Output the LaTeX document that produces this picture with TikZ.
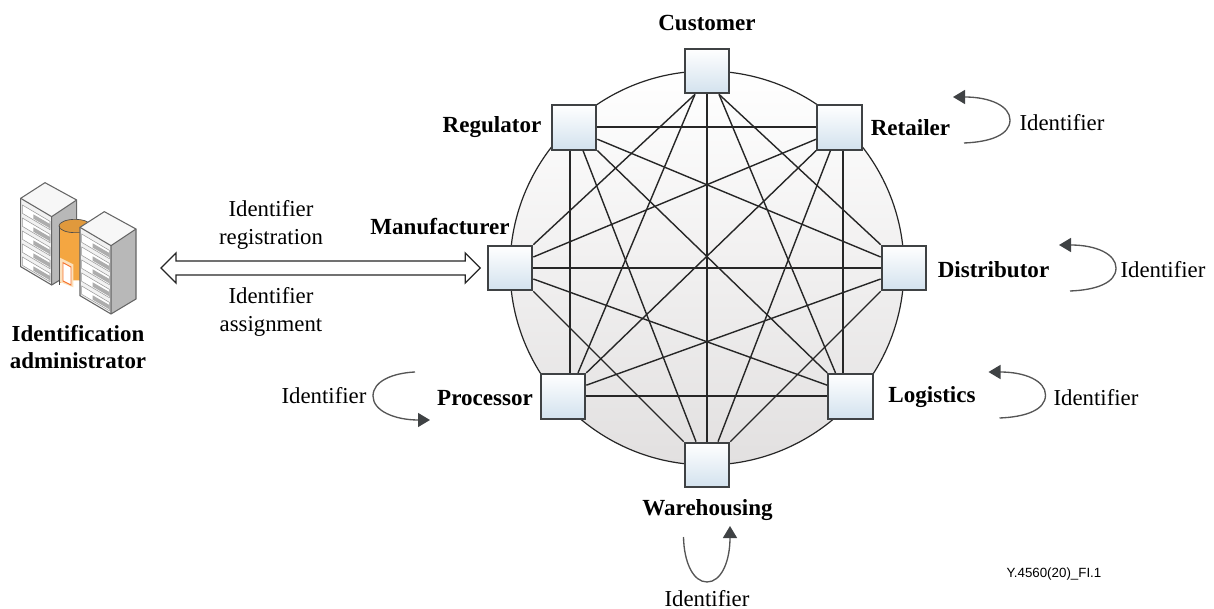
\documentclass[tikz,border=0pt]{standalone}
\usepackage{fontspec}
\setmainfont{Liberation Serif}
\setsansfont{Liberation Sans}
\usetikzlibrary{calc,arrows.meta}
\definecolor{boxedge}{HTML}{3F4244}
\definecolor{boxlow}{HTML}{D3E2EE}
\definecolor{ringlow}{HTML}{E2E0E0}
\definecolor{loopc}{HTML}{555555}
\definecolor{linkc}{HTML}{262626}
\definecolor{orangec}{HTML}{F4A641}
\tikzset{
  box/.style={draw=boxedge,line width=1.5pt,minimum size=33.5pt,inner sep=0pt,top color=white,bottom color=boxlow},
  ring/.style={circle,draw=linkc,line width=0.9pt,minimum size=295.5pt,inner sep=0pt,top color=white,bottom color=ringlow},
  link/.style={draw=linkc,line width=1.05pt},
  role/.style={font=\fontsize{17.3}{20}\selectfont\bfseries,inner sep=0pt},
  plain/.style={font=\fontsize{17.1}{21.6}\selectfont,inner sep=0pt,align=center},
  selfl/.style={draw=loopc,line width=1pt,-{Triangle[length=9pt,width=10.5pt,color=boxedge]}},
  rackedge/.style={draw=black!60,line width=0.5pt},
  bigarrow/.style={draw=black!85,line width=0.95pt,fill=white}
}
\newcommand{\rackdraw}{%
  \fill[black!3] (0,0) -- (73,-47) -- (168,5) -- (93,55) -- cycle;
  \fill[black!5] (0,0) -- (93,55) -- (93,260) -- (0,205) -- cycle;
  \fill[black!28] (93,55) -- (168,5) -- (168,215) -- (93,260) -- cycle;
  \foreach \i in {0,1,2,3,4}{
    \draw[black!40,line width=0.4pt,fill=white] (5,{20+\i*39}) -- (88,{69+\i*39}) -- (88,{94+\i*39}) -- (5,{45+\i*39}) -- cycle;
    \fill[black!32] (38,{48+\i*39}) -- (88,{77+\i*39}) -- (88,{90+\i*39}) -- (38,{61+\i*39}) -- cycle;
  }
  \draw[rackedge,line width=0.8pt] (0,0) -- (73,-47) -- (168,5) -- (168,215) -- (93,260) -- (0,205) -- cycle;
  \draw[rackedge,line width=0.8pt] (0,0) -- (93,55) -- (168,5) (93,55) -- (93,260);
}
\begin{document}
\begin{tikzpicture}[x=0.75pt,y=-0.75pt]
\useasboundingbox (0,0) rectangle (1214,609);

% server icon
\begin{scope}[x=0.25pt,y=-0.25pt,shift={(0pt,-127.5pt)}]
  \begin{scope}[shift={(62,85)}] \rackdraw \end{scope}
  \fill[orangec] (177,170) -- (177,343) arc[start angle=180,end angle=360,x radius=48,y radius=12] -- (273,170) -- cycle;
  \fill[orangec!92!black] (225,168) ellipse[x radius=48,y radius=20];
  \draw[black!70,line width=0.5pt] (177,168) arc[start angle=180,end angle=360,x radius=48,y radius=20];
  \draw[black!70,line width=0.5pt] (177,168) arc[start angle=180,end angle=90,x radius=48,y radius=20] -- +(48,0);
  \draw[black!70,line width=0.5pt] (177,168) -- (177,345);
  \fill[orangec!35] (180,263) -- (220,283) -- (220,352) -- (180,336) -- cycle;
  \draw[orangec!70!red,line width=0.7pt,fill=white] (189,278) -- (213,291) -- (213,345) -- (189,333) -- cycle;
  \begin{scope}[shift={(240,172)}] \rackdraw \end{scope}
\end{scope}

% ring and role boxes
\node[ring] (ring) at (707,268) {};
\node[box] (cu) at (707,71) {};
\node[box] (re) at (574,127.2) {};
\node[box] (rt) at (839.5,127.2) {};
\node[box] (ma) at (510,268) {};
\node[box] (di) at (904,268) {};
\node[box] (pr) at (563,396.2) {};
\node[box] (lo) at (850.5,396.2) {};
\node[box] (wa) at (707,465) {};

% links
\draw[link] ($(cu.south)+(-12,0)$) -- (ma.north east);
\draw[link] ($(cu.south)+(-12,0)$) -- ($(pr.north)+(15,0)$);
\draw[link] (cu.south) -- (wa.north);
\draw[link] ($(cu.south)+(12,0)$) -- (di.north west);
\draw[link] ($(cu.south)+(12,0)$) -- ($(lo.north)+(-15,0)$);
\draw[link] (re.east) -- (rt.west);
\draw[link] ($(re.east)+(0,12)$) -- ($(di.west)+(0,-11)$);
\draw[link] (re.south east) -- (lo.north west);
\draw[link] ($(re.south)+(9,0)$) -- ($(wa.north)+(-11,0)$);
\draw[link] ($(re.south)+(-4,0)$) -- ($(pr.north)+(7,0)$);
\draw[link] ($(rt.west)+(0,12)$) -- ($(ma.east)+(0,-11)$);
\draw[link] (rt.south west) -- (pr.north east);
\draw[link] ($(rt.south)+(-9,0)$) -- ($(wa.north)+(11,0)$);
\draw[link] ($(rt.south)+(3.5,0)$) -- ($(lo.north)+(-7.5,0)$);
\draw[link] (ma.east) -- (di.west);
\draw[link] ($(ma.east)+(0,11)$) -- ($(lo.west)+(0,-11)$);
\draw[link] (ma.south east) -- (wa.north west);
\draw[link] ($(di.west)+(0,11)$) -- ($(pr.east)+(0,-11)$);
\draw[link] (di.south west) -- (wa.north east);
\draw[link] (pr.east) -- (lo.west);

% role labels
\node[role] (lcu) at (707,23) {Customer};
\node[role] (lre) at (492,127) {Regulator};
\node[role] (lrt) at (910.5,128) {Retailer};
\node[role] (lma) at (440,227) {Manufacturer};
\node[role] (ldi) at (993.5,270) {Distributor};
\node[role] (llo) at (932,397) {Logistics};
\node[role] (lpr) at (485,398) {Processor};
\node[role] (lwa) at (707.5,510) {Warehousing};

% identifier labels
\node[plain] (irt) at (1062,122.5) {Identifier};
\node[plain] (idi) at (1163,269.5) {Identifier};
\node[plain] (ilo) at (1096,397.5) {Identifier};
\node[plain] (ipr) at (324,395.5) {Identifier};
\node[plain] (iwa) at (707,598.5) {Identifier};

% self loops
\begin{scope}
\draw[selfl] (964,143) .. controls (990,142) and (1010,135) .. (1010,120) .. controls (1010,106) and (990,97) .. (953,97);
\end{scope}
\begin{scope}[shift={(106,148)}]
\draw[selfl] (964,143) .. controls (990,142) and (1010,135) .. (1010,120) .. controls (1010,106) and (990,97) .. (953,97);
\end{scope}
\begin{scope}[shift={(35.5,275)}]
\draw[selfl] (964,143) .. controls (990,142) and (1010,135) .. (1010,120) .. controls (1010,106) and (990,97) .. (953,97);
\end{scope}
\draw[selfl] (415,372) .. controls (393,373) and (373,381) .. (373,396) .. controls (373,411) and (395,420) .. (430,420);
\draw[selfl] (683.5,537) .. controls (684,562) and (693,582) .. (707,582) .. controls (721,582) and (730,562) .. (730,526);

% administrator
\node[font=\fontsize{17.2}{20.3}\selectfont\bfseries,align=center,inner sep=0pt] (adm) at (78,347) {Identification\\administrator};
\coordinate (tipL) at (161,268);
\coordinate (tipR) at ($(ma.west)+(-6.5,0)$);
\draw[bigarrow,line join=miter] (tipL) -- ++(15,-15) -- ++(0,8) -- ($(tipR)+(-15,-7)$) -- ++(0,-8) -- (tipR) -- ++(-15,15) -- ++(0,-8) -- ($(tipL)+(15,7)$) -- ++(0,8) -- cycle;
\node[plain] (reg) at (271,225) {Identifier\\registration};
\node[plain] (asg) at (271,312) {Identifier\\assignment};
\node[font=\sffamily\fontsize{10}{12}\selectfont,inner sep=0pt] (fig) at (1054,574) {Y.4560(20)\_FI.1};
\end{tikzpicture}
\end{document}
